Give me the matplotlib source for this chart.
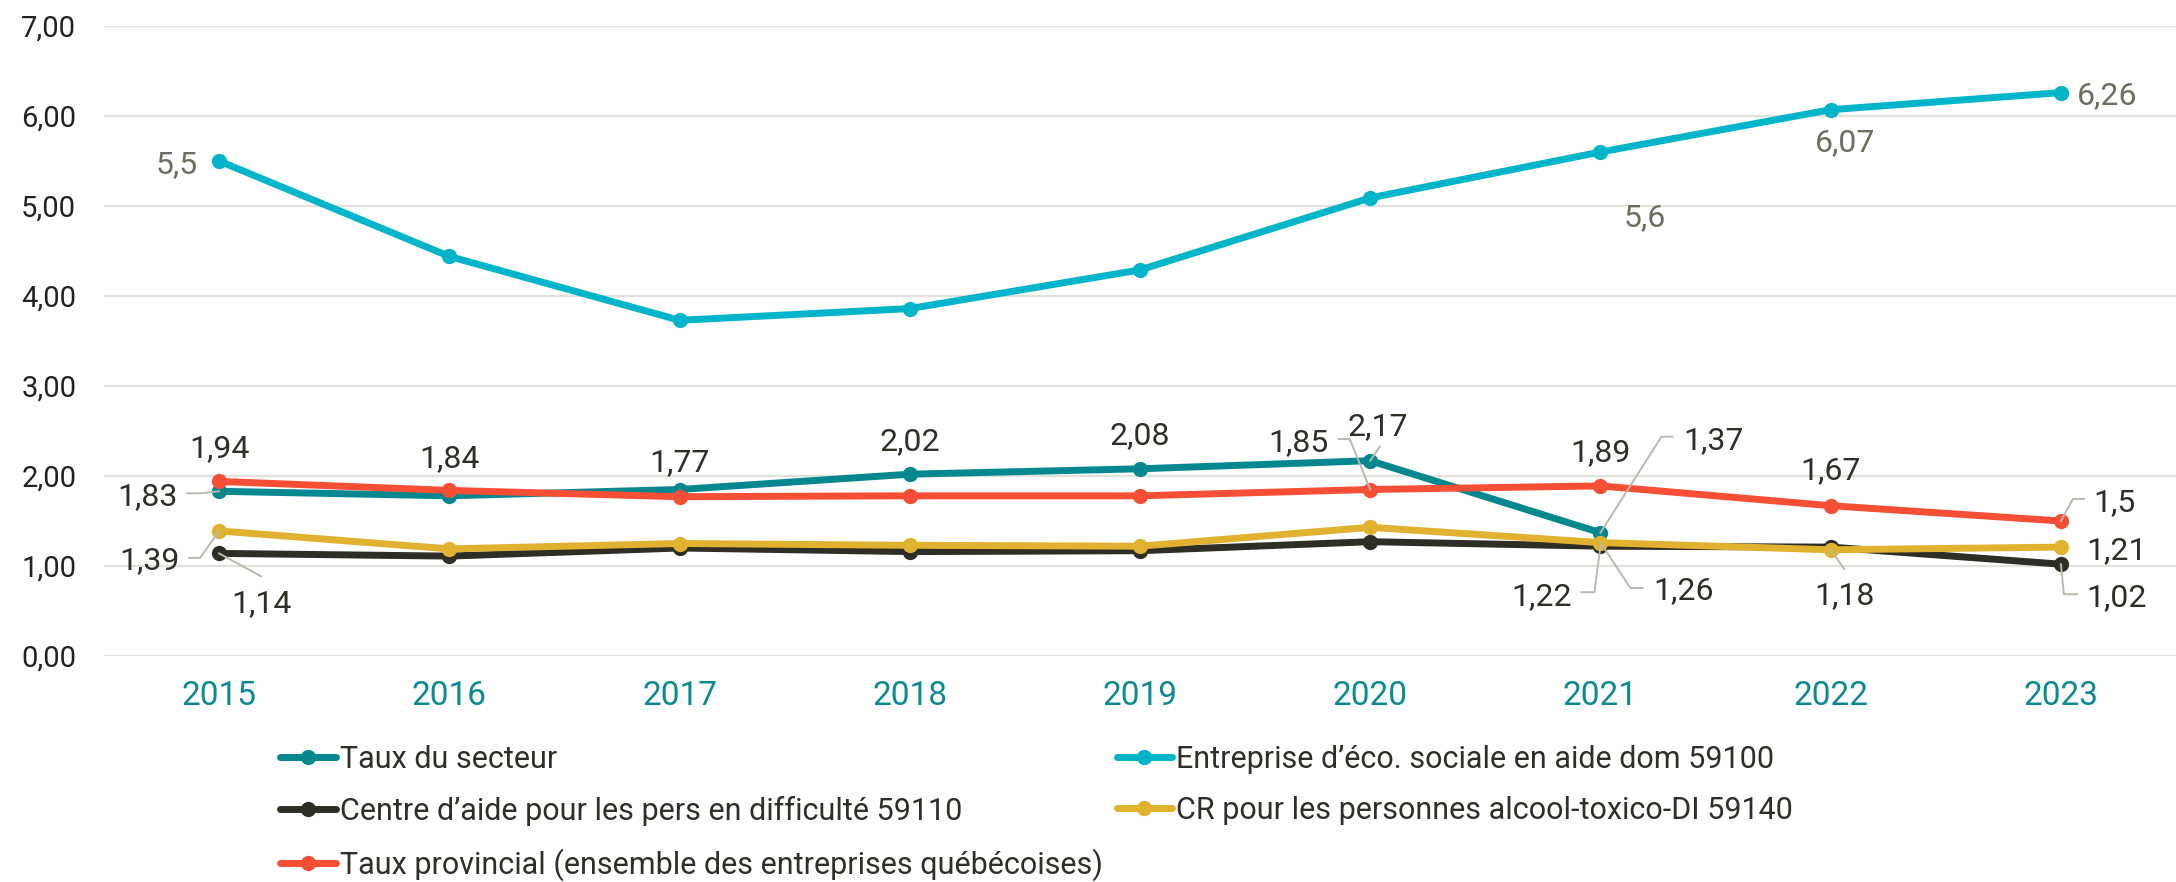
import matplotlib
matplotlib.use("Agg")
import matplotlib.pyplot as plt
from matplotlib.lines import Line2D
from matplotlib.transforms import IdentityTransform

plt.rcParams['font.family'] = ['Roboto', 'DejaVu Sans']

# ---------------- data ----------------
years = ["2015", "2016", "2017", "2018", "2019", "2020", "2021", "2022", "2023"]
taux_secteur = [1.83, 1.78, 1.85, 2.02, 2.08, 2.17, 1.37, None, None]
eco_sociale = [5.50, 4.44, 3.73, 3.86, 4.29, 5.09, 5.60, 6.07, 6.26]
centre_aide = [1.14, 1.11, 1.20, 1.16, 1.17, 1.27, 1.22, 1.21, 1.02]
cr_alcool = [1.39, 1.19, 1.25, 1.23, 1.22, 1.43, 1.26, 1.18, 1.21]
taux_provincial = [1.94, 1.84, 1.77, 1.78, 1.78, 1.85, 1.89, 1.67, 1.50]

series_names = [
    "Taux du secteur",
    "Entreprise d\u2019éco. sociale en aide dom 59100",
    "Centre d\u2019aide pour les pers en difficulté 59110",
    "CR pour les personnes alcool-toxico-DI 59140",
    "Taux provincial (ensemble des entreprises québécoises)",
]
yticks = [0, 1, 2, 3, 4, 5, 6, 7]
ytick_labels = ["0,00", "1,00", "2,00", "3,00", "4,00", "5,00", "6,00", "7,00"]

# ---------------- style ----------------
colors = ["#04878f", "#00b4c9", "#2e2d26", "#e0b22f", "#f74e36"]
label_dark = "#2f2f28"
label_gray = "#6d6d5f"
leader_col = "#b9b9ae"

# label placements: series index -> {year index: (dx, dy) offset pixels of text centre}
label_pos = {
    4: {0: (0, 36), 1: (0, 35), 2: (0, 37), 5: (-72, 50), 6: (0, 36), 7: (0, 38), 8: (54, 21)},
    0: {0: (-72, -2), 3: (0, 36), 4: (0, 36), 5: (8, 37), 6: (113, 95)},
    1: {0: (-42, -1), 6: (44, -63), 7: (14, -30), 8: (46, 0)},
    2: {0: (42, -47), 6: (-59, -47), 8: (56, -30)},
    3: {0: (-70, -27), 6: (83, -45), 7: (14, -43), 8: (56, -1)},
}
# leader lines: list of offset points (pixels) starting from the marker
leaders = {
    (4, 5): [(-20.5, 50.5), (-31.5, 50.5)],
    (4, 8): [(12, 22), (23, 22)],
    (0, 0): [(-19, -2), (-32, -2)],
    (0, 5): [(9.5, 14)],
    (0, 6): [(61, 96), (72, 96)],
    (2, 0): [(42, -23)],
    (2, 6): [(-6, -46), (-19, -46)],
    (2, 8): [(3, -30), (16, -30)],
    (3, 0): [(-19, -27), (-30, -27)],
    (3, 6): [(30, -45.4), (42, -45.4)],
    (3, 7): [(13.5, -19)],
}

W, H = 2176, 882
fig = plt.figure(figsize=(W / 100, H / 100), dpi=100)
ax = fig.add_axes([104 / W, 1 - 656 / H, (W - 104) / W, (656 - 26) / H])

data = [taux_secteur, eco_sociale, centre_aide, cr_alcool, taux_provincial]
x = list(range(len(years)))
handles = []
for k, (vals, c, name) in enumerate(zip(data, colors, series_names)):
    xs = [xi for xi, v in zip(x, vals) if v is not None]
    ys = [v for v in vals if v is not None]
    h, = ax.plot(xs, ys, color=c, lw=5.0, marker="o", ms=11,
                 markeredgewidth=0, solid_capstyle="round", zorder=3 + k * 0.1,
                 label=name)
    handles.append(h)

ax.set_xlim(-0.5, len(years) - 0.5)
ax.set_ylim(0, 7)
ax.set_yticks(yticks)
ax.set_yticklabels(ytick_labels)
ax.set_xticks(x)
ax.set_xticklabels(years)
ax.tick_params(axis="y", length=0, pad=20, labelsize=21, labelcolor="#222222")
ax.tick_params(axis="x", length=0, pad=17, labelsize=24, labelcolor="#0b8a94")
ax.grid(axis="y", color="#e2e2dc", lw=1.6, zorder=0)
ax.set_axisbelow(True)
for s in ax.spines.values():
    s.set_visible(False)

def fmt(v):
    s = f"{v:.2f}".rstrip("0").rstrip(".")
    return s.replace(".", ",")

fig.canvas.draw()
for k, d in label_pos.items():
    vals = data[k]
    for i, (dx, dy) in d.items():
        v = vals[i]
        col = label_gray if k == 1 else label_dark
        ax.annotate(fmt(v), xy=(i, v), xytext=(dx, dy - 11.5),
                    textcoords="offset pixels", ha="center", va="baseline",
                    fontsize=23, color=col, zorder=6)
        if (k, i) in leaders:
            px, py = ax.transData.transform((i, v))
            pts = [(px, py)] + [(px + ox, py + oy) for ox, oy in leaders[(k, i)]]
            ln = Line2D([p[0] for p in pts], [p[1] for p in pts],
                        transform=IdentityTransform(), color=leader_col,
                        lw=1.4, zorder=5)
            fig.add_artist(ln)

order = [0, 2, 4, 1, 3]
leg = fig.legend([handles[j] for j in order], [series_names[j] for j in order],
                 ncol=2, loc="upper left", bbox_to_anchor=(280 / W, 1 - 745 / H),
                 frameon=False, fontsize=22, handlelength=1.83, handletextpad=0.13,
                 columnspacing=0.45, labelspacing=0.72, borderpad=0, borderaxespad=0)
for t in leg.get_texts():
    t.set_color(label_dark)

fig.savefig("out.png", dpi=100)
